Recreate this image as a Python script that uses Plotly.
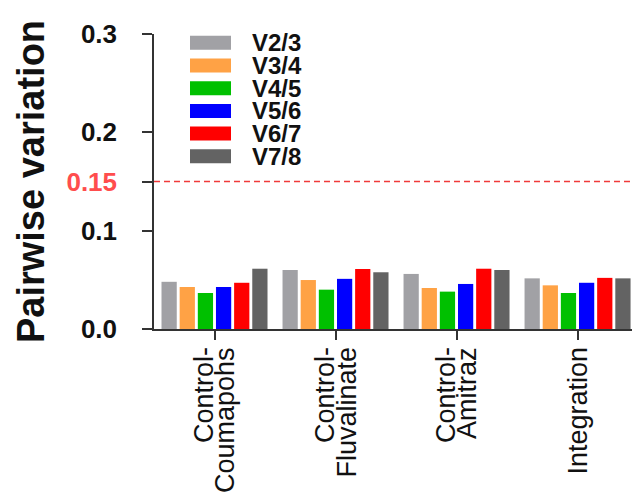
import plotly.graph_objects as go

categories = ["Control-<br>Coumapohs", "Control-<br>Fluvalinate", "Control-<br>Amitraz", "Integration"]
series_names = ["V2/3", "V3/4", "V4/5", "V5/6", "V6/7", "V7/8"]
series_colors = ["#a1a1a5", "#ffa245", "#00c000", "#0000ff", "#ff0000", "#636363"]
v23 = [0.048, 0.060, 0.056, 0.0515]
v34 = [0.0427, 0.0498, 0.0417, 0.0444]
v45 = [0.0366, 0.040, 0.038, 0.0366]
v56 = [0.0427, 0.051, 0.0458, 0.047]
v67 = [0.047, 0.061, 0.0613, 0.052]
v78 = [0.0613, 0.0577, 0.060, 0.0515]
series_values = [v23, v34, v45, v56, v67, v78]
threshold = 0.15
tick_vals = [0.0, 0.1, 0.15, 0.2, 0.3]
tick_text = ["0.0", "0.1", '<span style="color:#ff4d4d">0.15</span>', "0.2", "0.3"]

FONT = "Liberation Sans, Arial"

fig = go.Figure()
for name, color, vals in zip(series_names, series_colors, series_values):
    fig.add_trace(go.Bar(x=list(range(len(categories))), y=vals, name=name, marker_color=color,
                         marker_line_width=0, showlegend=False))

# threshold line
fig.add_shape(type="line", xref="paper", yref="y", x0=0, x1=1, y0=threshold, y1=threshold,
              line=dict(color="#f03a3a", width=1.5, dash="6px,4px"))

# pixel helpers (plot area: x 154..632 px, y 34..329 px)
W, H, L, T = 478.0, 295.0, 154.0, 34.0
def px_x(p):
    return (p - L) / W
def px_y(p):
    return (T + H - p) / H

# manual legend
row0, step = 42.8, 22.7
for i, (name, color) in enumerate(zip(series_names, series_colors)):
    yc = row0 + i * step
    fig.add_shape(type="rect", xref="paper", yref="paper",
                  x0=px_x(190), x1=px_x(231), y0=px_y(yc + 7), y1=px_y(yc - 7),
                  fillcolor=color, line_width=0)
    fig.add_annotation(xref="paper", yref="paper", x=px_x(250), y=px_y(yc),
                       text="<b>%s</b>" % name, showarrow=False, xanchor="left", yanchor="middle",
                       font=dict(family=FONT, size=24, color="#111111"))

# category labels (rotated, tightly spaced lines)
line_gap = 21
for i, cat in enumerate(categories):
    lines = cat.split("<br>")
    n = len(lines)
    for j, ln in enumerate(lines):
        off = (j - (n - 1) / 2.0) * line_gap
        fig.add_annotation(xref="x", yref="paper", x=i, y=px_y(345), xshift=off,
                           text=ln, textangle=-90, showarrow=False,
                           xanchor="center", yanchor="top",
                           font=dict(family=FONT, size=27, color="#111111"))

fig.update_layout(
    width=632, height=503,
    margin=dict(l=154, r=0, t=34, b=174),
    paper_bgcolor="white", plot_bgcolor="white",
    barmode="group", bargap=0.10, bargroupgap=0.16,
    font=dict(family=FONT, color="#111111"),
)
fig.update_xaxes(
    range=[-0.5, 3.45], showline=True, linecolor="#333333", linewidth=1.5,
    ticks="outside", ticklen=9, tickwidth=1.5, tickcolor="#333333",
    tickvals=list(range(len(categories))), showticklabels=False,
    showgrid=False, zeroline=False,
)
fig.update_yaxes(
    range=[0, 0.3], showline=True, linecolor="#333333", linewidth=1.5,
    ticks="outside", ticklen=10, tickwidth=1.5, tickcolor="#333333",
    tickvals=tick_vals, ticktext=tick_text, ticklabelstandoff=20,
    tickfont=dict(family=FONT, size=26, color="#111111", weight="bold"),
    title=dict(text="<b>Pairwise variation</b>", standoff=10,
               font=dict(family=FONT, size=38, color="#111111")),
    showgrid=False, zeroline=False,
)

fig.write_html("out.html")
